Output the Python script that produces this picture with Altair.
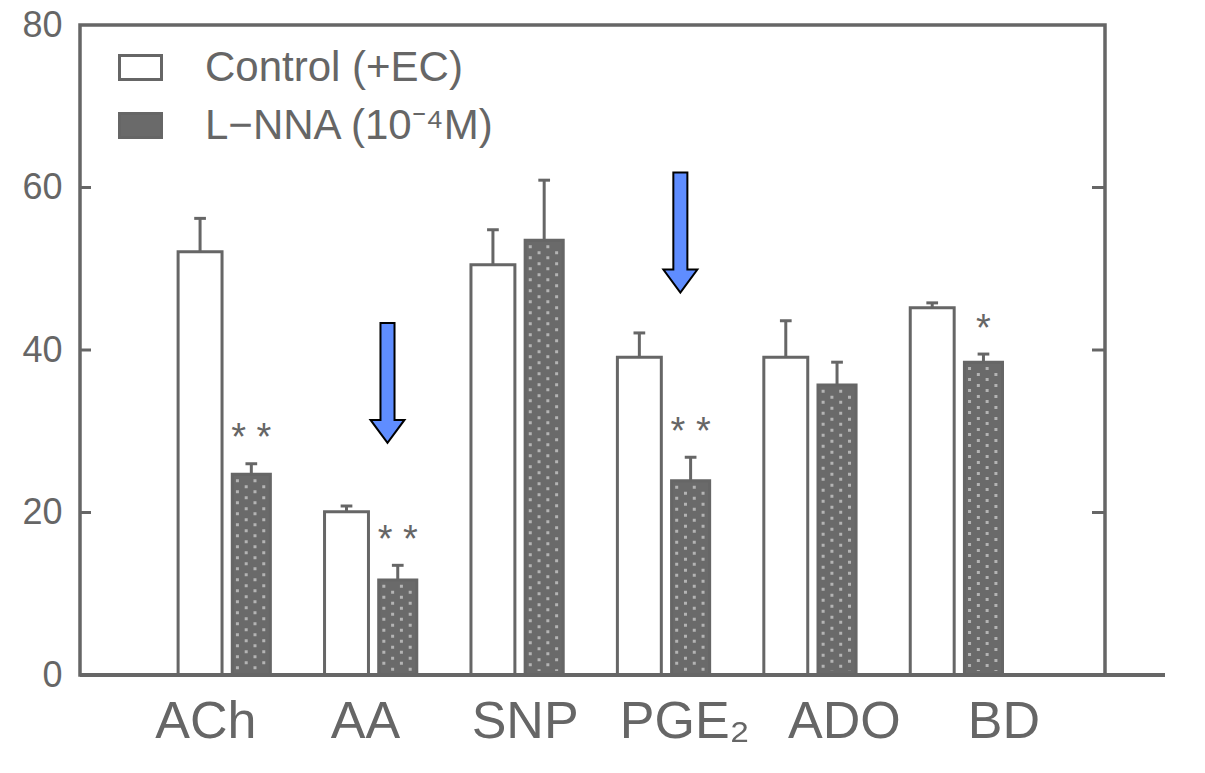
import altair as alt
import pandas as pd

# ---- data ----
groups = ["ACh", "AA", "SNP", "PGE₂", "ADO", "BD"]
series = ["Control (+EC)", "L−NNA (10⁻⁴M)"]
control_mean = [52.1, 20.1, 50.5, 39.1, 39.1, 45.2]
control_sem = [4.1, 0.7, 4.3, 3.0, 4.5, 0.6]
lnna_mean = [24.7, 11.7, 53.5, 23.9, 35.7, 38.5]
lnna_sem = [1.3, 1.8, 7.4, 2.9, 2.8, 1.0]
significance = ["**", "**", "", "**", "", "*"]
y_ticks = [0, 20, 40, 60, 80]
arrow_groups = ["AA", "PGE₂"]
arrow_top = [43.3, 61.9]
arrow_tip = [28.6, 47.0]

GRAY = "#666666"
TXT = "#666666"
FONT = "Liberation Sans"

rows = []
for i, g in enumerate(groups, start=1):
    for s, m, e, lo, hi in [
        (series[0], control_mean[i - 1], control_sem[i - 1], -0.33, -0.03),
        (series[1], lnna_mean[i - 1], lnna_sem[i - 1], 0.04, 0.30),
    ]:
        xc = i + (lo + hi) / 2
        rows.append(dict(group=g, series=s, x0=i + lo, x1=i + hi, mean=m,
                         top=m + e, xc=xc, cl=xc - 0.04, cr=xc + 0.04))
bars = pd.DataFrame(rows)

# dotted texture columns inside the L-NNA bars
tex_rows = []
for i in range(1, len(groups) + 1):
    for k, off in enumerate([0.075, 0.135, 0.195, 0.255]):
        tex_rows.append(dict(x=i + off, top=lnna_mean[i - 1] - 0.6, shift=k % 2))
texture = pd.DataFrame(tex_rows)

sig_rows = []
for i, g in enumerate(groups, start=1):
    if significance[i - 1]:
        sig_rows.append(dict(x=i + 0.17, y=lnna_mean[i - 1] + lnna_sem[i - 1] + 3.0,
                             t=significance[i - 1].replace("**", "* *")))
sig = pd.DataFrame(sig_rows)

arrows = pd.DataFrame(dict(
    x=[groups.index(g) + 1 + 0.1 for g in arrow_groups],
    y=[(a + b) / 2 for a, b in zip(arrow_top, arrow_tip)],
))

labels = pd.DataFrame(dict(name=groups,
                           lx=[0.86 + 1.09 * k for k in range(len(groups))]))
ticks = pd.DataFrame(dict(v=[20, 40, 60]))

xs = alt.Scale(domain=[0, 7], nice=False, zero=False)
ys = alt.Scale(domain=[0, 80], nice=False, zero=True)
yaxis = alt.Axis(values=y_ticks, ticks=False, domain=False, grid=False,
                 labelFontSize=36, labelColor=TXT, labelFont=FONT,
                 labelPadding=18, title=None)

bar_layer = alt.Chart(bars).mark_bar(stroke=GRAY, strokeWidth=3).encode(
    x=alt.X("x0:Q", scale=xs, axis=None),
    x2="x1:Q",
    y=alt.Y("mean:Q", scale=ys, axis=yaxis),
    y2=alt.datum(0),
    color=alt.Color("series:N",
                    scale=alt.Scale(domain=series, range=["#ffffff", "#6a6a6a"]),
                    legend=alt.Legend(
                        title=None, orient="none", legendX=38, legendY=20,
                        symbolType="M-1,-0.57H1V0.57H-1Z", symbolSize=1764,
                        symbolStrokeColor=GRAY, symbolStrokeWidth=3,
                        labelFontSize=42, labelColor=TXT, labelFont=FONT,
                        labelLimit=0, rowPadding=14, labelOffset=42,
                        padding=0)),
)

tex_a = alt.Chart(texture).transform_filter("datum.shift == 0").mark_rule(
    color="#b4b4b4", strokeWidth=3, strokeDash=[3, 8]).encode(
    x=alt.X("x:Q", scale=xs, axis=None),
    y=alt.Y("top:Q", scale=ys, axis=yaxis),
    y2=alt.datum(0.5),
)
tex_b = alt.Chart(texture).transform_filter("datum.shift == 1").mark_rule(
    color="#b4b4b4", strokeWidth=3, strokeDash=[3, 8], strokeDashOffset=5).encode(
    x=alt.X("x:Q", scale=xs, axis=None),
    y=alt.Y("top:Q", scale=ys, axis=yaxis),
    y2=alt.datum(0.5),
)

stems = alt.Chart(bars).mark_rule(color=GRAY, strokeWidth=3).encode(
    x=alt.X("xc:Q", scale=xs, axis=None),
    y=alt.Y("mean:Q", scale=ys, axis=yaxis),
    y2="top:Q",
)
caps = alt.Chart(bars).mark_rule(color=GRAY, strokeWidth=3).encode(
    x=alt.X("cl:Q", scale=xs, axis=None),
    x2="cr:Q",
    y=alt.Y("top:Q", scale=ys, axis=yaxis),
)
stars = alt.Chart(sig).mark_text(fontSize=38, color=TXT, font=FONT,
                                 baseline="middle").encode(
    x=alt.X("x:Q", scale=xs, axis=None),
    y=alt.Y("y:Q", scale=ys, axis=yaxis),
    text="t:N",
)
arrow_path = ("M-0.117,-1L0.117,-1L0.117,0.617L0.283,0.617L0,1"
              "L-0.283,0.617L-0.117,0.617Z")
arrow_layer = alt.Chart(arrows).mark_point(
    shape=arrow_path, size=14400, filled=True, fill="#5f8dff",
    stroke="#000000", strokeWidth=2, opacity=1).encode(
    x=alt.X("x:Q", scale=xs, axis=None),
    y=alt.Y("y:Q", scale=ys, axis=yaxis),
)
xlabels = alt.Chart(labels).mark_text(fontSize=52, color=TXT, font=FONT,
                                      baseline="middle").encode(
    x=alt.X("lx:Q", scale=xs, axis=None),
    y=alt.value(697),
    text="name:N",
)
lticks = alt.Chart(ticks).mark_rule(color=GRAY, strokeWidth=3).encode(
    y=alt.Y("v:Q", scale=ys, axis=yaxis), x=alt.value(0), x2=alt.value(11))
rticks = alt.Chart(ticks).mark_rule(color=GRAY, strokeWidth=3).encode(
    y=alt.Y("v:Q", scale=ys, axis=yaxis), x=alt.value(1025), x2=alt.value(1012))
baseline = alt.Chart(ticks).mark_rule(color=GRAY, strokeWidth=4).encode(
    y=alt.value(650), x=alt.value(0), x2=alt.value(1085))

chart = alt.layer(
    bar_layer, tex_a, tex_b, stems, caps, stars, arrow_layer, xlabels,
    lticks, rticks, baseline
).properties(
    width=1025, height=650,
    background="white",
    autosize=alt.AutoSizeParams(type="none"),
    padding={"left": 80, "top": 25, "right": 100, "bottom": 98},
).configure_view(stroke=GRAY, strokeWidth=3.5)

chart.save("out.html", embed_options={"renderer": "svg", "actions": False})
